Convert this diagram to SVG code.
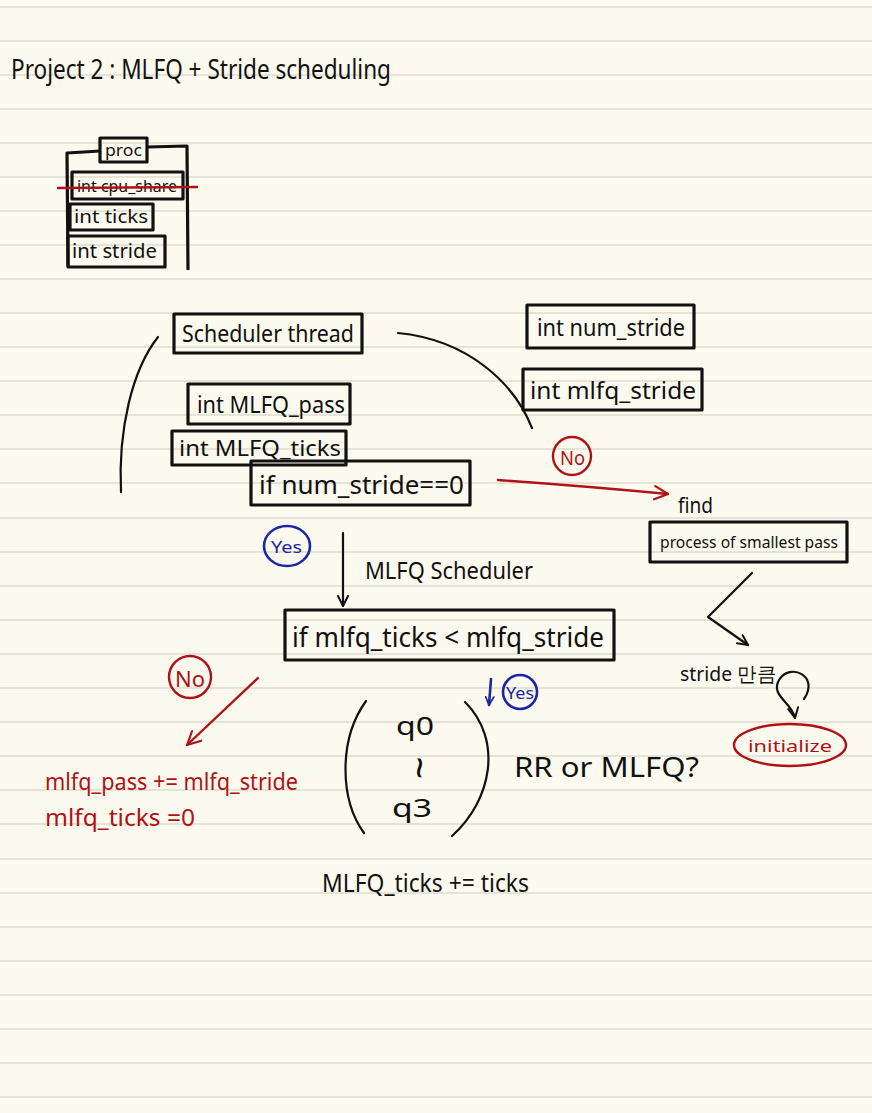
<svg xmlns="http://www.w3.org/2000/svg" width="872" height="1113" viewBox="0 0 872 1113">
<style>
.bg{fill:#fcfaee}
.rule{stroke:#e6e3d6;stroke-width:2}
.box{fill:none;stroke:#111;stroke-width:3.2;stroke-linejoin:round}
.ink{fill:none;stroke:#111;stroke-width:2.2;stroke-linecap:round;stroke-linejoin:round}
.red{fill:none;stroke:#b01116;stroke-width:2.4;stroke-linecap:round;stroke-linejoin:round}
.blue{fill:none;stroke:#1b26a3;stroke-width:2.6;stroke-linecap:round;stroke-linejoin:round}
text{font-family:"Noto Sans","Liberation Sans",sans-serif;fill:#111}
.t-red{fill:#b01116}
.t-blue{fill:#1b26a3}
</style>
<defs>
<marker id="ah" viewBox="0 0 12 12" refX="11" refY="6" markerWidth="12" markerHeight="12" markerUnits="userSpaceOnUse" orient="auto"><path d="M1,1 L11,6 L1,11" fill="none" stroke="#111" stroke-width="2" stroke-linecap="round" stroke-linejoin="round"/></marker>
<marker id="ahr" viewBox="0 0 12 12" refX="11" refY="6" markerWidth="16" markerHeight="16" markerUnits="userSpaceOnUse" orient="auto"><path d="M1,1 L11,6 L1,11" fill="none" stroke="#b01116" stroke-width="1.6" stroke-linecap="round" stroke-linejoin="round"/></marker>
<marker id="ahb" viewBox="0 0 12 12" refX="11" refY="6" markerWidth="10" markerHeight="10" markerUnits="userSpaceOnUse" orient="auto"><path d="M1,1 L11,6 L1,11" fill="none" stroke="#1b26a3" stroke-width="2" stroke-linecap="round" stroke-linejoin="round"/></marker>
</defs>
<rect class="bg" x="0" y="0" width="872" height="1113"/>
<g id="ruling">
<line class="rule" x1="0" x2="872" y1="7" y2="7"/>
<line class="rule" x1="0" x2="872" y1="41" y2="41"/>
<line class="rule" x1="0" x2="872" y1="75" y2="75"/>
<line class="rule" x1="0" x2="872" y1="109" y2="109"/>
<line class="rule" x1="0" x2="872" y1="143" y2="143"/>
<line class="rule" x1="0" x2="872" y1="177" y2="177"/>
<line class="rule" x1="0" x2="872" y1="211" y2="211"/>
<line class="rule" x1="0" x2="872" y1="245" y2="245"/>
<line class="rule" x1="0" x2="872" y1="279" y2="279"/>
<line class="rule" x1="0" x2="872" y1="313" y2="313"/>
<line class="rule" x1="0" x2="872" y1="347" y2="347"/>
<line class="rule" x1="0" x2="872" y1="381" y2="381"/>
<line class="rule" x1="0" x2="872" y1="415" y2="415"/>
<line class="rule" x1="0" x2="872" y1="449" y2="449"/>
<line class="rule" x1="0" x2="872" y1="483" y2="483"/>
<line class="rule" x1="0" x2="872" y1="518" y2="518"/>
<line class="rule" x1="0" x2="872" y1="552" y2="552"/>
<line class="rule" x1="0" x2="872" y1="586" y2="586"/>
<line class="rule" x1="0" x2="872" y1="620" y2="620"/>
<line class="rule" x1="0" x2="872" y1="654" y2="654"/>
<line class="rule" x1="0" x2="872" y1="688" y2="688"/>
<line class="rule" x1="0" x2="872" y1="722" y2="722"/>
<line class="rule" x1="0" x2="872" y1="756" y2="756"/>
<line class="rule" x1="0" x2="872" y1="790" y2="790"/>
<line class="rule" x1="0" x2="872" y1="824" y2="824"/>
<line class="rule" x1="0" x2="872" y1="859" y2="859"/>
<line class="rule" x1="0" x2="872" y1="893" y2="893"/>
<line class="rule" x1="0" x2="872" y1="927" y2="927"/>
<line class="rule" x1="0" x2="872" y1="961" y2="961"/>
<line class="rule" x1="0" x2="872" y1="995" y2="995"/>
<line class="rule" x1="0" x2="872" y1="1029" y2="1029"/>
<line class="rule" x1="0" x2="872" y1="1063" y2="1063"/>
<line class="rule" x1="0" x2="872" y1="1097" y2="1097"/>
</g>
<g id="title">
<text x="11" y="79" font-size="27" textLength="380" lengthAdjust="spacingAndGlyphs">Project 2 : MLFQ + Stride scheduling</text>
</g>
<g id="proc">
<path class="box" d="M100,151 L67,153 L68,266 M147,147 L187,146 L188,270"/>
<rect class="box" x="100" y="138" width="47" height="24"/>
<text x="105" y="156" font-size="17" textLength="37" lengthAdjust="spacingAndGlyphs">proc</text>
<rect class="box" x="72" y="172" width="111" height="27"/>
<text x="77" y="192" font-size="17" textLength="100" lengthAdjust="spacingAndGlyphs">int cpu_share</text>
<line class="red" x1="58" y1="188" x2="197" y2="187"/>
<rect class="box" x="70" y="204" width="83" height="26"/>
<text x="74" y="223" font-size="18" textLength="74" lengthAdjust="spacingAndGlyphs">int ticks</text>
<rect class="box" x="68" y="236" width="97" height="31"/>
<text x="72" y="258" font-size="19" textLength="85" lengthAdjust="spacingAndGlyphs">int stride</text>
</g>
<g id="scheduler_thread">
<rect class="box" x="174" y="314" width="188" height="39"/>
<text x="182" y="342" font-size="24" textLength="172" lengthAdjust="spacingAndGlyphs">Scheduler thread</text>
</g>
<g id="num_stride">
<rect class="box" x="527" y="305" width="167" height="43"/>
<text x="537" y="336" font-size="24" textLength="148" lengthAdjust="spacingAndGlyphs">int num_stride</text>
</g>
<g id="mlfq_stride">
<rect class="box" x="523" y="369" width="179" height="41"/>
<text x="530" y="399" font-size="24" textLength="166" lengthAdjust="spacingAndGlyphs">int mlfq_stride</text>
</g>
<g id="mlfq_pass">
<rect class="box" x="188" y="384" width="162" height="40"/>
<text x="197" y="413" font-size="23" textLength="148" lengthAdjust="spacingAndGlyphs">int MLFQ_pass</text>
</g>
<g id="mlfq_ticks">
<rect class="box" x="172" y="431" width="174" height="34"/>
<text x="179" y="456" font-size="22" textLength="162" lengthAdjust="spacingAndGlyphs">int MLFQ_ticks</text>
</g>
<g id="if_num_stride">
<rect class="box" x="251" y="461" width="219" height="44"/>
<text x="259" y="494" font-size="25" textLength="205" lengthAdjust="spacingAndGlyphs">if num_stride==0</text>
</g>
<g id="no_right">
<circle class="red" cx="572" cy="456" r="19"/>
<text class="t-red" x="560" y="465" font-size="19" textLength="25" lengthAdjust="spacingAndGlyphs">No</text>
</g>
<g id="find">
<text x="678" y="513" font-size="22" textLength="35" lengthAdjust="spacingAndGlyphs">find</text>
<rect class="box" x="650" y="522" width="197" height="40"/>
<text x="660" y="548" font-size="17" textLength="178" lengthAdjust="spacingAndGlyphs">process of smallest pass</text>
</g>
<g id="stride_step">
<text x="680" y="681" font-family="'Noto Sans','Noto Sans CJK KR',sans-serif" font-size="20" textLength="96" lengthAdjust="spacingAndGlyphs">stride 만큼</text>
</g>
<g id="initialize">
<ellipse class="red" cx="790" cy="745" rx="56" ry="21"/>
<text class="t-red" x="748" y="752" font-size="17" textLength="84" lengthAdjust="spacingAndGlyphs">initialize</text>
</g>
<g id="yes_top">
<ellipse class="blue" cx="287" cy="546" rx="23" ry="20"/>
<text class="t-blue" x="271" y="553" font-size="16" textLength="31" lengthAdjust="spacingAndGlyphs">Yes</text>
</g>
<g id="mlfq_label">
<text x="365" y="579" font-size="24" textLength="168" lengthAdjust="spacingAndGlyphs">MLFQ Scheduler</text>
</g>
<g id="if_mlfq_ticks">
<rect class="box" x="285" y="610" width="329" height="50"/>
<text x="292" y="647" font-size="27" textLength="312" lengthAdjust="spacingAndGlyphs">if mlfq_ticks &lt; mlfq_stride</text>
</g>
<g id="no_left">
<circle class="red" cx="190" cy="677" r="21"/>
<text class="t-red" x="175" y="687" font-size="22" textLength="30" lengthAdjust="spacingAndGlyphs">No</text>
</g>
<g id="no_action">
<text class="t-red" x="45" y="790" font-size="23" textLength="253" lengthAdjust="spacingAndGlyphs">mlfq_pass += mlfq_stride</text>
<text class="t-red" x="45" y="826" font-size="23" textLength="150" lengthAdjust="spacingAndGlyphs">mlfq_ticks =0</text>
</g>
<g id="yes_bottom">
<circle class="blue" cx="520" cy="692" r="17"/>
<text class="t-blue" x="506" y="699" font-size="16" textLength="28" lengthAdjust="spacingAndGlyphs">Yes</text>
</g>
<g id="queues">
<path class="ink" d="M366,701 C338,740 340,800 364,833"/>
<path class="ink" d="M465,702 C503,740 492,800 452,836"/>
<text x="396" y="735" font-size="25" textLength="38" lengthAdjust="spacingAndGlyphs">q0</text>
<text x="418" y="777" font-size="40" text-anchor="middle" transform="rotate(90 416 766)">~</text>
<text x="392" y="817" font-size="25" textLength="40" lengthAdjust="spacingAndGlyphs">q3</text>
</g>
<g id="rr_question">
<text x="514" y="777" font-size="27" textLength="185" lengthAdjust="spacingAndGlyphs">RR or MLFQ?</text>
</g>
<g id="ticks_update">
<text x="322" y="892" font-size="25" textLength="207" lengthAdjust="spacingAndGlyphs">MLFQ_ticks += ticks</text>
</g>
<g id="connectors">
<path class="ink" d="M158,337 C132,370 118,430 121,492"/>
<path class="ink" d="M398,333 C470,340 515,385 532,428"/>
<path class="red" d="M498,480 Q585,486 668,494" marker-end="url(#ahr)"/>
<path class="ink" d="M343,533 L343,606" marker-end="url(#ah)"/>
<path class="red" d="M258,678 L187,745" marker-end="url(#ahr)"/>
<path class="ink" d="M752,573 L708,617 L748,645" marker-end="url(#ah)"/>
<path class="blue" d="M491,679 L489,705" marker-end="url(#ahb)"/>
<path class="ink" d="M804,699 C820,676 790,662 779,680 C770,696 792,702 795,718" marker-end="url(#ah)"/>
</g>
</svg>
